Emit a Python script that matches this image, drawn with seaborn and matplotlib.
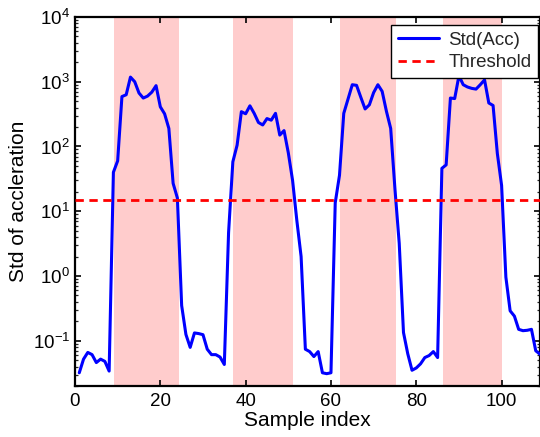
import numpy as np
import pandas as pd
import matplotlib
matplotlib.use("Agg")
import matplotlib.pyplot as plt
import seaborn as sns
from matplotlib.ticker import LogLocator, NullFormatter

# ---- data ----
sample_index = list(range(1, 110))
std_acc = [
    0.032, 0.052, 0.066, 0.061, 0.046, 0.052, 0.048, 0.034,            # 1-8
    40, 60, 590, 630, 1180, 1000, 670, 560, 600, 690, 870, 410,         # 9-20
    320, 190, 27, 16,                                                   # 21-24
    0.35, 0.125, 0.079, 0.132, 0.129, 0.124, 0.074, 0.061, 0.061,       # 25-33
    0.056, 0.043, 4.7,                                                  # 34-36
    58, 105, 345, 320, 425, 325, 235, 215, 270, 255, 325, 150, 176,     # 37-49
    80, 30, 7.2, 2.0,                                                   # 50-53
    0.074, 0.068, 0.057, 0.068, 0.032, 0.031, 0.032,                   # 54-60
    13.5, 36, 325, 540, 900, 880, 575, 380, 440, 680, 900, 710, 350,    # 61-73
    190, 22, 3.2,                                                       # 74-76
    0.134, 0.063, 0.035, 0.038, 0.044, 0.055, 0.059, 0.068, 0.055,      # 77-85
    46, 52, 560, 550, 1240, 900, 830, 790, 770, 900, 1070, 470, 430,    # 86-98
    78, 25,                                                             # 99-100
    0.96, 0.29, 0.24, 0.15, 0.143, 0.145, 0.15, 0.07, 0.062,            # 101-109
]
threshold = 15
active_start = [9.2, 37.0, 62.1, 86.2]
active_end = [24.4, 51.0, 75.2, 100.2]
x_ticks = [0, 20, 40, 60, 80, 100]
series_label = "Std(Acc)"
threshold_label = "Threshold"

df = pd.DataFrame({"Sample index": sample_index, "std": std_acc})

# ---- style ----
sns.set_theme(style="white")
plt.rcParams["font.family"] = ["Liberation Sans", "DejaVu Sans"]
plt.rcParams["mathtext.fontset"] = "custom"
plt.rcParams["mathtext.rm"] = "Liberation Sans"
plt.rcParams["mathtext.it"] = "Liberation Sans:italic"
plt.rcParams["mathtext.bf"] = "Liberation Sans:bold"

fig = plt.figure(figsize=(5.4, 4.37), dpi=100)
ax = fig.add_axes([75 / 540, 1 - 386 / 437, 1 - 75 / 540, (386 - 17) / 437])

for s, e in zip(active_start, active_end):
    ax.axvspan(s, e, facecolor="#ffcccc", edgecolor="none", zorder=0)

sns.lineplot(data=df, x="Sample index", y="std", ax=ax, color="#0000ff",
             linewidth=2.2, label=series_label, zorder=3)
ax.axhline(threshold, color="#ff0000", linestyle=(0, (3, 2)), linewidth=2.0,
           label=threshold_label, zorder=4)

ax.set_yscale("log")
ax.set_ylim(0.02, 1e4)
ax.set_xlim(0, 109)
ax.set_xticks(x_ticks)
ax.yaxis.set_major_locator(LogLocator(base=10, numticks=10))
ax.yaxis.set_minor_locator(LogLocator(base=10, subs=np.arange(2, 10), numticks=20))
ax.yaxis.set_minor_formatter(NullFormatter())

ax.set_xlabel("Sample index", fontsize=15, color="black", labelpad=1)
ax.set_ylabel("Std of accleration", fontsize=15, color="black", labelpad=3)

ax.tick_params(axis="both", which="major", direction="in", length=4, width=1.2,
               labelsize=13.5, colors="black", top=True, right=True, left=True, bottom=True)
ax.tick_params(axis="y", which="minor", direction="in", length=2.5, width=0.9,
               left=True, right=True)
ax.tick_params(axis="x", which="major", pad=5)

for sp in ax.spines.values():
    sp.set_visible(True)
    sp.set_color("black")
    sp.set_linewidth(1.6)

leg = ax.legend(loc="upper right", fontsize=13.5, frameon=True, fancybox=False,
                bbox_to_anchor=(538 / 540, 1 - 25 / 437),
                bbox_transform=fig.transFigure, borderaxespad=0,
                handlelength=2.2, borderpad=0.35,
                labelspacing=0.3, handletextpad=0.5)
leg.get_frame().set_edgecolor("black")
leg.get_frame().set_linewidth(1.0)
leg.get_frame().set_alpha(1.0)

fig.savefig("out.png", dpi=100)
